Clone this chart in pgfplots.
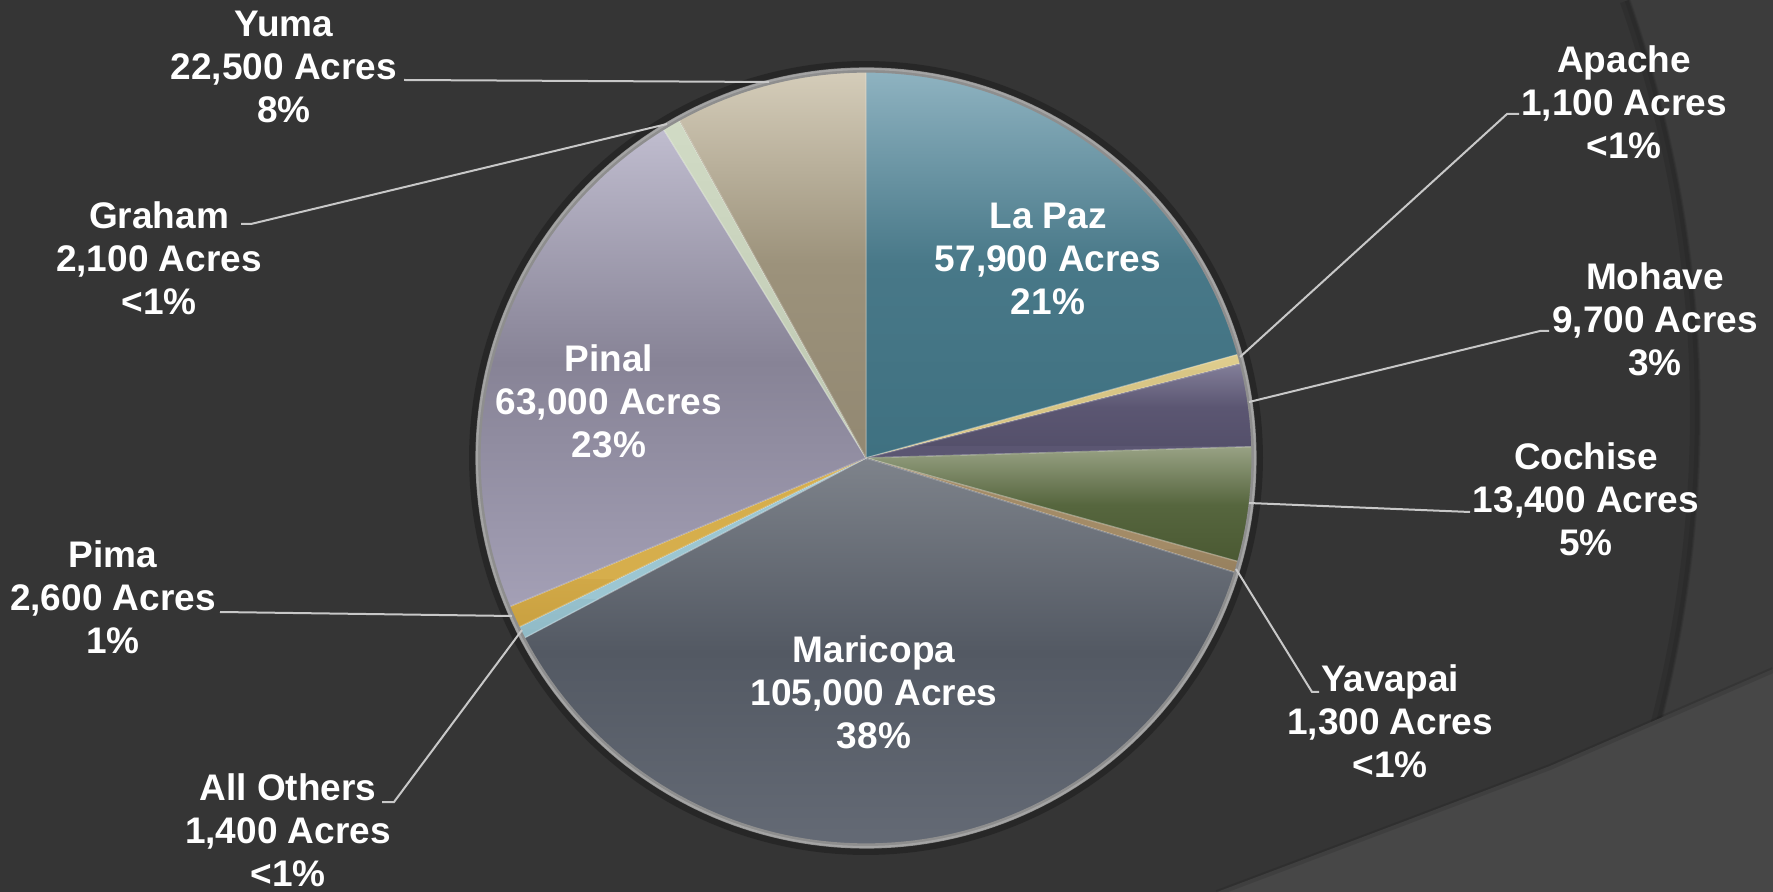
\documentclass[border=0pt]{standalone}
\usepackage{pgfplots}
\pgfplotsset{compat=1.18}
\usepackage{pgfplotstable}
\usepackage{fontspec}
\setmainfont{Liberation Sans}

\definecolor{bg}{HTML}{353535}
\definecolor{bgtwo}{HTML}{3C3C3C}
\definecolor{bgthree}{HTML}{474747}
\definecolor{rim}{HTML}{8E8E8E}
\definecolor{leader}{HTML}{C8C8C8}

\definecolor{c0t}{HTML}{8FB3C1}\definecolor{c0m}{HTML}{487888}\definecolor{c0b}{HTML}{3F7181}
\definecolor{c1t}{HTML}{E0CF90}\definecolor{c1m}{HTML}{D8C585}\definecolor{c1b}{HTML}{CDB878}
\definecolor{c2t}{HTML}{8A86A0}\definecolor{c2m}{HTML}{5B5672}\definecolor{c2b}{HTML}{524E68}
\definecolor{c3t}{HTML}{9AA386}\definecolor{c3m}{HTML}{56663E}\definecolor{c3b}{HTML}{4A5832}
\definecolor{c4t}{HTML}{B09A76}\definecolor{c4m}{HTML}{A38B67}\definecolor{c4b}{HTML}{96805E}
\definecolor{c5t}{HTML}{7E838B}\definecolor{c5m}{HTML}{535963}\definecolor{c5b}{HTML}{646A75}
\definecolor{c6t}{HTML}{A8D0DC}\definecolor{c6m}{HTML}{9CC6D2}\definecolor{c6b}{HTML}{90BAC6}
\definecolor{c7t}{HTML}{E0BA58}\definecolor{c7m}{HTML}{D6AE4C}\definecolor{c7b}{HTML}{C9A040}
\definecolor{c8t}{HTML}{C3C0D2}\definecolor{c8m}{HTML}{878396}\definecolor{c8b}{HTML}{A4A0B6}
\definecolor{c9t}{HTML}{D2DCC6}\definecolor{c9m}{HTML}{C8D2BC}\definecolor{c9b}{HTML}{BCC6B0}
\definecolor{c10t}{HTML}{D5CDBA}\definecolor{c10m}{HTML}{9C927B}\definecolor{c10b}{HTML}{928872}

\pgfplotstableread{
name value
LaPaz 57900
Apache 1100
Mohave 9700
Cochise 13400
Yavapai 1300
Maricopa 105000
AllOthers 1400
Pima 2600
Pinal 63000
Graham 2100
Yuma 22500
}\pietable

\def\total{0}
\pgfplotsforeachungrouped \i in {0,...,10}{%
  \pgfplotstablegetelem{\i}{value}\of\pietable
  \xdef\total{\fpeval{\total+\pgfplotsretval}}%
}
\def\cum{0}
\pgfplotsforeachungrouped \i in {0,...,10}{%
  \pgfplotstablegetelem{\i}{value}\of\pietable
  \edef\v{\pgfplotsretval}%
  \expandafter\xdef\csname ts\i\endcsname{\fpeval{90-360*\cum/\total}}%
  \xdef\cum{\fpeval{\cum+\v}}%
  \expandafter\xdef\csname te\i\endcsname{\fpeval{90-360*\cum/\total}}%
}
% #1 slice index, #2/#3 top/bottom y of its gradient
\newcommand\slice[3]{%
  \edef\tA{\csname te#1\endcsname}\edef\tB{\csname ts#1\endcsname}%
  \addplot[draw=white, draw opacity=0.22, line width=0.7pt, fill=c#1m,
    path picture={\shade[path picture={}, draw=none, top color=c#1t, bottom color=c#1b, middle color=c#1m]
      (axis cs:0,#2) rectangle (axis cs:1773,#3);},
    domain=\tA:\tB, samples=90, variable=\t]
    ({866+388*cos(\t)},{458-388*sin(\t)}) -- (axis cs:866,458) -- cycle;
}

\begin{document}
\begin{tikzpicture}[
  lbl/.style={align=center, text=white, inner sep=0pt,
    font=\fontsize{18.5}{21.5}\selectfont\bfseries},
  ld/.style={draw=leader, line width=1pt}]
\begin{axis}[
  scale only axis, width=886.5pt, height=446pt,
  xmin=0, xmax=1773, ymin=0, ymax=892, y dir=reverse,
  hide axis, clip=true]
% background
\fill[bg] (axis cs:0,0) rectangle (axis cs:1773,892);
\addplot[draw=none, fill=bgtwo, domain=-22.59:19.34, samples=80, variable=\t]
  ({452+1247*cos(\t)},{413-1247*sin(\t)}) -- (axis cs:1773,0) -- (axis cs:1773,892) -- cycle;
\addplot[draw=black, opacity=0.10, line width=5pt, domain=-22.59:19.34, samples=80, variable=\t]
  ({452+1243*cos(\t)},{413-1243*sin(\t)});
\addplot[draw=black, opacity=0.08, line width=3pt, domain=-22.59:19.34, samples=80, variable=\t]
  ({452+1246*cos(\t)},{413-1246*sin(\t)});
\fill[bgthree] (axis cs:1217,892) -- (axis cs:1400,823) -- (axis cs:1550,766)
  -- (axis cs:1773,669) -- (axis cs:1773,892) -- cycle;
\draw[black, opacity=0.10, line width=3pt] (axis cs:1217,893) -- (axis cs:1400,824)
  -- (axis cs:1550,767) -- (axis cs:1773,670);
% pie glow
\addplot[draw=black, opacity=0.25, line width=6pt, domain=0:360, samples=240, variable=\t]
  ({866+391*cos(\t)},{458-391*sin(\t)});
% slices
\slice{0}{70}{458}\slice{1}{345}{370}\slice{2}{356}{446}\slice{3}{445}{565}
\slice{4}{550}{575}\slice{5}{458}{846}\slice{6}{600}{640}\slice{7}{580}{630}
\slice{8}{115}{610}\slice{9}{100}{460}\slice{10}{70}{458}
% rim
\addplot[draw=rim, line width=2.6pt, domain=0:360, samples=240, variable=\t]
  ({866+388*cos(\t)},{458-388*sin(\t)});
\addplot[draw=white, opacity=0.2, line width=1pt, domain=0:360, samples=240, variable=\t]
  ({866+389*cos(\t)},{458-389*sin(\t)});
% leader lines
\draw[ld] (axis cs:404,80) -- (axis cs:769,82);
\draw[ld] (axis cs:241,224) -- (axis cs:251,224) -- (axis cs:667,124);
\draw[ld] (axis cs:1519,114) -- (axis cs:1507,114) -- (axis cs:1240,357);
\draw[ld] (axis cs:1549,331) -- (axis cs:1540,331) -- (axis cs:1249,402);
\draw[ld] (axis cs:1249,503) -- (axis cs:1470,512);
\draw[ld] (axis cs:1236,569) -- (axis cs:1312,692) -- (axis cs:1319,692);
\draw[ld] (axis cs:220,612) -- (axis cs:512,616);
\draw[ld] (axis cs:382,802) -- (axis cs:394,802) -- (axis cs:522,630);
% labels
\node[lbl] at (axis cs:1048,259) {La Paz\\57,900 Acres\\21\%};
\node[lbl] at (axis cs:1624,102) {Apache\\1,100 Acres\\<1\%};
\node[lbl] at (axis cs:1655,319) {Mohave\\9,700 Acres\\3\%};
\node[lbl] at (axis cs:1586,499) {Cochise\\13,400 Acres\\5\%};
\node[lbl] at (axis cs:1390,721) {Yavapai\\1,300 Acres\\<1\%};
\node[lbl] at (axis cs:874,692) {Maricopa\\105,000 Acres\\38\%};
\node[lbl] at (axis cs:288,830) {All Others\\1,400 Acres\\<1\%};
\node[lbl] at (axis cs:113,597) {Pima\\2,600 Acres\\1\%};
\node[lbl] at (axis cs:609,401) {Pinal\\63,000 Acres\\23\%};
\node[lbl] at (axis cs:159,258) {Graham\\2,100 Acres\\<1\%};
\node[lbl] at (axis cs:284,67) {Yuma\\22,500 Acres\\8\%};
\end{axis}
\end{tikzpicture}
\end{document}
